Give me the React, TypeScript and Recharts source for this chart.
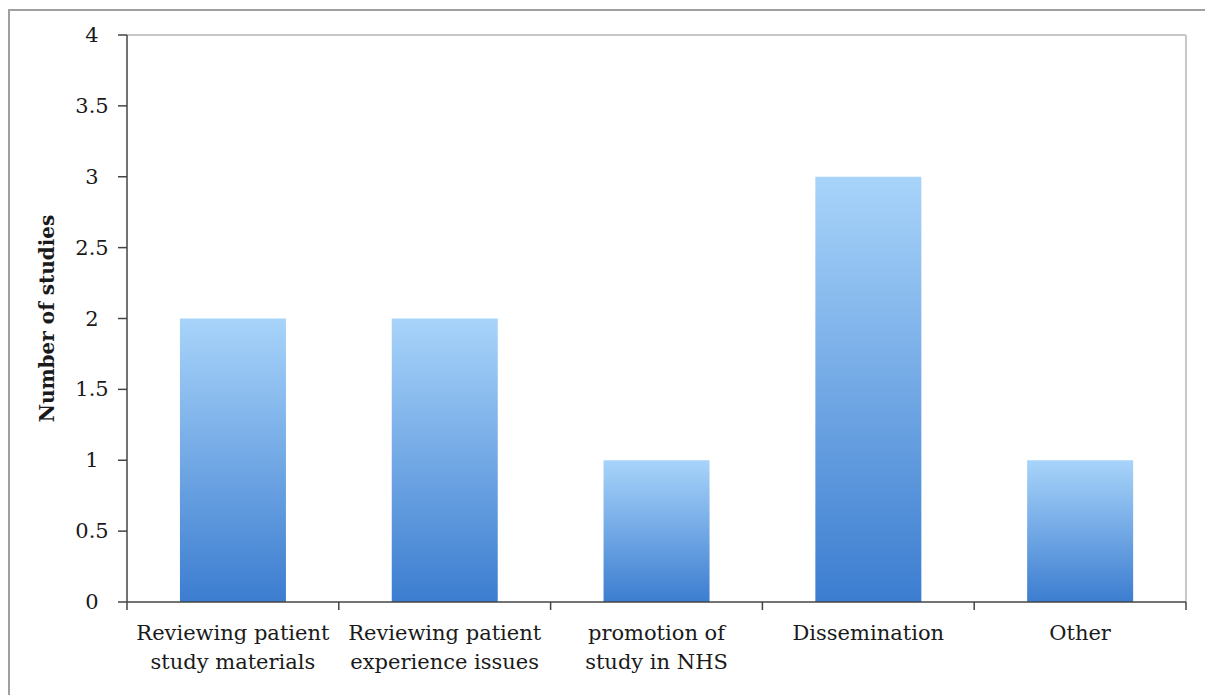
import React from 'react';
import { BarChart, Bar, XAxis, YAxis, ReferenceLine } from 'recharts';

const categories = [
  ['Reviewing patient', 'study materials'],
  ['Reviewing patient', 'experience issues'],
  ['promotion of', 'study in NHS'],
  ['Dissemination'],
  ['Other'],
];
const studies = [2, 2, 1, 3, 1];
const yTicks = [0, 0.5, 1, 1.5, 2, 2.5, 3, 3.5, 4];

const data = categories.map((lines, i) => ({ name: lines.join(' '), lines, value: studies[i] }));

const FONT = '"DejaVu Serif", serif';
const PLOT_W = 1059;
const BAND = PLOT_W / categories.length;

const CategoryTick = ({ x, y, payload, index }: any) => {
  const lines = data[index]?.lines ?? [payload.value];
  return (
    <g>
      <line x1={x - BAND / 2} x2={x - BAND / 2} y1={y - 8} y2={y} stroke="#444" strokeWidth={1.5} />
      {index === categories.length - 1 && (
        <line x1={x + BAND / 2} x2={x + BAND / 2} y1={y - 8} y2={y} stroke="#444" strokeWidth={1.5} />
      )}
      <text x={x} y={y + 30} textAnchor="middle" fontFamily={FONT} fontSize={21} fill="#1a1a1a">
        {lines.map((l: string, k: number) => (
          <tspan key={k} x={x} dy={k === 0 ? 0 : 29}>{l}</tspan>
        ))}
      </text>
    </g>
  );
};

const ValueTick = ({ x, y, payload }: any) => (
  <text x={x - 20} y={y} textAnchor="middle" dominantBaseline="central" fontFamily={FONT} fontSize={21} fill="#1a1a1a">
    {payload.value}
  </text>
);

export default function App() {
  return (
    <div style={{ position: 'absolute', left: 8, top: 9, width: 1215, height: 710, border: '2px solid #a0a0a0', background: '#fff' }}>
      <BarChart
        width={1195}
        height={690}
        data={data}
        margin={{ top: 24, right: 18, bottom: 39, left: 0 }}
        barCategoryGap="25%"
      >
        <defs>
          <linearGradient id="barGrad" x1="0" y1="0" x2="0" y2="1">
            <stop offset="0%" stopColor="#a8d4fa" />
            <stop offset="100%" stopColor="#3c7dd0" />
          </linearGradient>
        </defs>
        <YAxis
          yAxisId="right"
          orientation="right"
          width={1}
          tick={false}
          tickLine={false}
          domain={[0, 4]}
          axisLine={{ stroke: '#c8c8c8', strokeWidth: 2 }}
        />
        <XAxis
          dataKey="name"
          height={60}
          interval={0}
          tickLine={false}
          tick={<CategoryTick />}
          axisLine={{ stroke: '#444', strokeWidth: 1.5 }}
        />
        <YAxis
          width={117}
          domain={[0, 4]}
          ticks={yTicks}
          interval={0}
          tickSize={9}
          tickMargin={6}
          tickLine={{ stroke: '#444', strokeWidth: 1.5 }}
          axisLine={{ stroke: '#444', strokeWidth: 1.5 }}
          tick={<ValueTick />}
          label={{
            content: ({ viewBox }: any) => (
              <text
                x={viewBox.x + 37}
                y={viewBox.y + viewBox.height / 2}
                transform={`rotate(-90, ${viewBox.x + 37}, ${viewBox.y + viewBox.height / 2})`}
                textAnchor="middle"
                dominantBaseline="central"
                fontFamily={FONT}
                fontWeight="bold"
                fontSize={20}
                fill="#1a1a1a"
              >
                Number of studies
              </text>
            ),
          }}
        />
        <ReferenceLine y={4} stroke="#c8c8c8" strokeWidth={2} />
        <Bar dataKey="value" fill="url(#barGrad)" isAnimationActive={false} />
      </BarChart>
    </div>
  );
}
